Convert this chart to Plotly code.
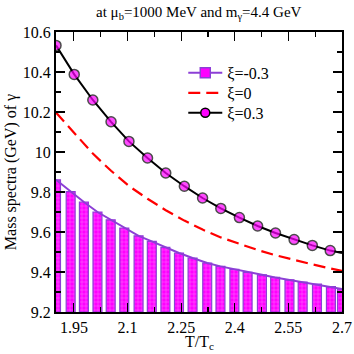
import plotly.graph_objects as go

# xi = 0.3 (circles)
t_pos = [1.900, 1.951, 2.003, 2.054, 2.104, 2.156, 2.207, 2.259, 2.310, 2.361,
         2.413, 2.464, 2.514, 2.566, 2.617, 2.667, 2.700]
m_pos = [10.533, 10.388, 10.260, 10.151, 10.053, 9.970, 9.895, 9.829, 9.770, 9.718,
         9.672, 9.630, 9.595, 9.562, 9.533, 9.507, 9.495]

# xi = 0 (dashed)
t_zero = t_pos
m_zero = [10.197, 10.095, 9.992, 9.906, 9.830, 9.766, 9.709, 9.657, 9.612, 9.573,
          9.541, 9.510, 9.484, 9.460, 9.438, 9.418, 9.405]

# xi = -0.3 (bars)
t_neg = [1.900, 1.941, 1.978, 2.016, 2.053, 2.091, 2.131, 2.168, 2.206, 2.244, 2.282,
         2.323, 2.360, 2.399, 2.436, 2.476, 2.513, 2.553, 2.590, 2.630, 2.669, 2.700]
m_neg = [9.861, 9.802, 9.750, 9.700, 9.661, 9.620, 9.581, 9.553, 9.523, 9.495, 9.470,
         9.445, 9.428, 9.413, 9.398, 9.386, 9.373, 9.361, 9.350, 9.339, 9.327, 9.315]

labels = ["ξ=-0.3", "ξ=0", "ξ=0.3"]
x_ticks = [1.95, 2.1, 2.25, 2.4, 2.55, 2.7]
x_tick_text = ["1.95", "2.1", "2.25", "2.4", "2.55", "2.7"]
y_ticks = [9.2, 9.4, 9.6, 9.8, 10.0, 10.2, 10.4, 10.6]
y_tick_text = ["9.2", "9.4", "9.6", "9.8", "10", "10.2", "10.4", "10.6"]

MAG = "#ff00ff"
PUR = "#8c3fd6"
FONT = "Liberation Serif, Times New Roman, serif"

fig = go.Figure()
fig.add_trace(go.Bar(
    x=t_neg, y=[v - 9.2 for v in m_neg], base=9.2, width=0.025,
    marker=dict(color=MAG, line=dict(color=PUR, width=1.2),
                pattern=dict(shape="+", fgcolor="#ffc8ff", size=4, solidity=0.25)),
    showlegend=False, hoverinfo="skip"))
fig.add_trace(go.Scatter(x=t_neg, y=m_neg, mode="lines",
                         line=dict(color=PUR, width=2), showlegend=False))
fig.add_trace(go.Scatter(x=t_zero, y=m_zero, mode="lines",
                         line=dict(color="#ff0000", width=2.2, dash="12px,6px"),
                         showlegend=False))
fig.add_trace(go.Scatter(x=t_pos, y=m_pos, mode="lines+markers",
                         line=dict(color="black", width=2),
                         marker=dict(symbol="circle", size=[10] * (len(t_pos) - 1) + [0],
                                     color=MAG, line=dict(color="black", width=1.5)),
                         showlegend=False))

# legend entries (one legend per row for exact placement)
fig.add_trace(go.Scatter(x=[None], y=[None], mode="lines+markers", name=labels[0],
                         legend="legend",
                         line=dict(color=PUR, width=2),
                         marker=dict(symbol="square", size=10, color=MAG,
                                     line=dict(color=PUR, width=1.5))))
fig.add_trace(go.Scatter(x=[None], y=[None], mode="lines", name=labels[1],
                         legend="legend2",
                         line=dict(color="#ff0000", width=2.2, dash="12px,6px")))
fig.add_trace(go.Scatter(x=[None], y=[None], mode="lines+markers", name=labels[2],
                         legend="legend3",
                         line=dict(color="black", width=2),
                         marker=dict(symbol="circle", size=9, color=MAG,
                                     line=dict(color="black", width=1.5))))

axis_common = dict(showline=True, linecolor="black", linewidth=2, mirror="allticks",
                   ticks="inside", ticklen=9, tickwidth=1.2, tickcolor="black",
                   showgrid=False, zeroline=False, automargin=False,
                   ticklabeloverflow="allow",
                   tickfont=dict(family=FONT, size=16, color="black"))

leg_common = dict(xanchor="left", yanchor="middle", bgcolor="rgba(0,0,0,0)",
                  font=dict(family=FONT, size=16), itemwidth=34)

fig.update_layout(
    width=354, height=354,
    margin=dict(l=56, r=12, t=32, b=42, autoexpand=False),
    plot_bgcolor="white", paper_bgcolor="white",
    bargap=0,
    font=dict(family=FONT, color="black", size=16),
    xaxis=dict(range=[1.9, 2.7], tickvals=x_ticks, ticktext=x_tick_text,
               minor=dict(dtick=0.075, tick0=1.95, ticks="inside", ticklen=5,
                          tickcolor="black", tickwidth=1.2),
               **axis_common),
    yaxis=dict(range=[9.2, 10.6], tickvals=y_ticks, ticktext=y_tick_text,
               minor=dict(dtick=0.1, tick0=9.2, ticks="inside", ticklen=5,
                          tickcolor="black", tickwidth=1.2),
               title=dict(text="Mass spectra (GeV) of γ", font=dict(family=FONT, size=16),
                          standoff=2),
               **axis_common),
    legend=dict(x=0.445, y=0.854, **leg_common),
    legend2=dict(x=0.445, y=0.782, **leg_common),
    legend3=dict(x=0.445, y=0.711, **leg_common),
    annotations=[
        dict(text="at μ<sub>b</sub>=1000 MeV and m<sub>γ</sub>=4.4 GeV",
             xref="paper", yref="paper", x=0.5, y=1.0, yshift=19,
             xanchor="center", yanchor="middle", showarrow=False,
             font=dict(family=FONT, size=15)),
        dict(text="T/T<sub>c</sub>",
             xref="paper", yref="paper", x=0.5, y=-0.068,
             xanchor="center", yanchor="top", showarrow=False,
             font=dict(family=FONT, size=16)),
    ],
)

fig.write_html("out.html", config={"displayModeBar": False, "staticPlot": True},
               post_script="document.body.style.margin='0px';document.body.style.overflow='hidden';")
